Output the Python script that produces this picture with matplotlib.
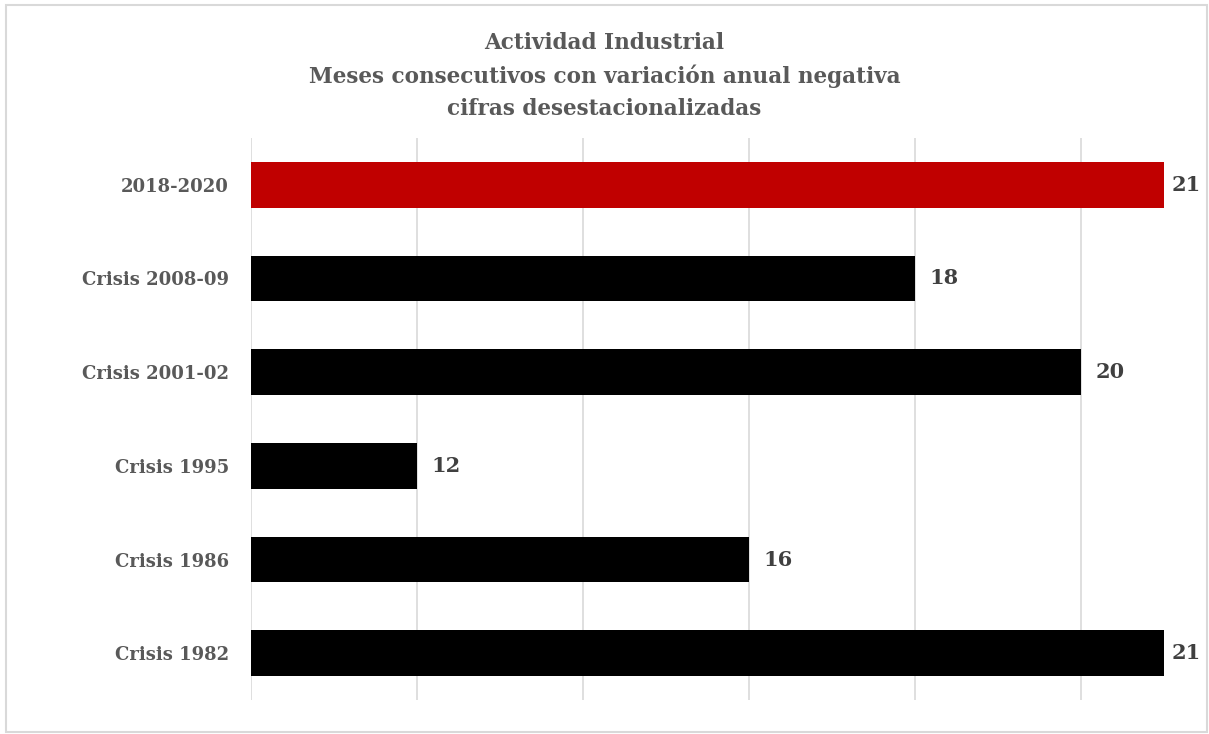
import matplotlib.pyplot as plt
from matplotlib.patches import Rectangle

# data
categories = ["2018-2020", "Crisis 2008-09", "Crisis 2001-02",
              "Crisis 1995", "Crisis 1986", "Crisis 1982"]
months = [21, 18, 20, 12, 16, 21]
bar_colors = ["#C00000", "black", "black", "black", "black", "black"]

title = ("Actividad Industrial\n"
         "Meses consecutivos con variación anual negativa\n"
         "cifras desestacionalizadas")

plt.rcParams['font.family'] = ['DejaVu Serif']

fig = plt.figure(figsize=(12.09, 7.34), dpi=100)
ax = fig.add_axes([0.2076, 0.0463, 0.7552, 0.7657])

ypos = range(len(categories))
ax.barh(ypos, [m - 10 for m in months], left=10, height=0.49,
        color=bar_colors, zorder=2)

xmax = 21
for y, m in zip(ypos, months):
    # labels at the edge are nudged in, as the spreadsheet did
    off = 0.09 if m >= xmax else 0.17
    ax.text(m + off, y, str(m), va='center', ha='left',
            fontsize=15, fontweight='bold', color='#404040')

ax.set_xlim(10, xmax)
ax.set_ylim(len(categories) - 0.5, -0.5)
ax.set_xticks([10, 12, 14, 16, 18, 20])
ax.set_xticklabels([])
ax.grid(axis='x', color='#d9d9d9', linewidth=1.2, zorder=0)
ax.tick_params(axis='both', length=0)
ax.tick_params(axis='y', pad=16)
ax.set_yticks(list(ypos))
ax.set_yticklabels(categories, fontsize=13, fontweight='bold', color='#595959')
for s in ax.spines.values():
    s.set_visible(False)

fig.text(0.5, 0.8965, title, ha='center', va='center', fontsize=15.5,
         fontweight='bold', color='#595959', linespacing=1.6)

fig.patches.append(Rectangle((0.005, 0.003), 0.993, 0.99, transform=fig.transFigure,
                             fill=False, edgecolor='#d9d9d9', linewidth=1.5))

fig.savefig("out.png", dpi=100)
plt.close(fig)
